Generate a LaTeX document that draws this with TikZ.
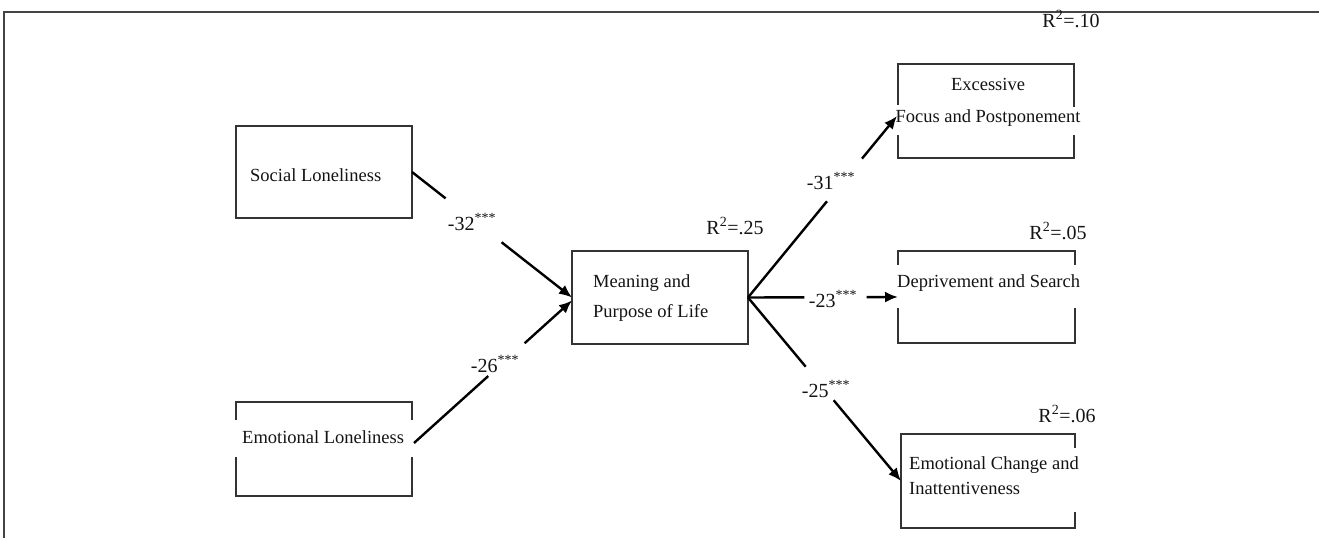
\documentclass[tikz,border=0pt]{standalone}
\usepackage{fontspec}
\setmainfont{Liberation Serif}
\usetikzlibrary{arrows.meta,calc}
\definecolor{boxc}{HTML}{333333}
\definecolor{framec}{HTML}{444444}
\definecolor{txtc}{HTML}{141414}
\begin{document}
\begin{tikzpicture}[x=1pt,y=-1pt,
  box/.style={draw=boxc, line width=2.1pt, inner sep=0pt, outer sep=0pt, minimum width=176pt, minimum height=93pt},
  txt/.style={font=\fontsize{18.5}{22}\selectfont, text=txtc, inner sep=0pt},
  coef/.style={font=\fontsize{20}{24}\selectfont, text=txtc, inner sep=0pt},
  rsq/.style={font=\fontsize{20}{24}\selectfont, text=txtc, inner sep=0pt},
  conn/.style={line width=2.4pt, draw=black},
  arr/.style={conn, -{Latex[length=13pt,width=11pt]}},
  gap/.style={fill=white}]
\useasboundingbox (0,0) rectangle (1319,538);
\fill[white] (0,0) rectangle (1319,538);
\draw[framec, line width=2pt] (4,538) -- (4,12) -- (1319,12);

% boxes
\node[box, minimum height=92pt] (soc) at (324,172) {};
\node[box, minimum height=94pt] (emo) at (324,449) {};
\node[box] (mean) at (660,297.5) {};
\node[box, minimum height=94pt] (exc) at (986,111) {};
\node[box, minimum width=177pt, minimum height=92pt] (dep) at (986.5,297) {};
\node[box, minimum width=174pt, minimum height=94pt] (emc) at (988,481) {};

% breaks in the box sides
\fill[gap] (230,420) rectangle (242,457);
\fill[gap] (406,420) rectangle (418,457);
\fill[gap] (892,105) rectangle (904,135);
\fill[gap] (1068,107) rectangle (1080,135);
\fill[gap] (892,265) rectangle (904,308);
\fill[gap] (1069,265) rectangle (1081,308);
\fill[gap] (1069,448) rectangle (1081,512);

% box texts
\node[txt, anchor=west] (tsoc) at (250,175) {Social Loneliness};
\node[txt, anchor=west] (temo) at (242,437) {Emotional Loneliness};
\node[txt, anchor=west, align=left, font=\fontsize{18.5}{30}\selectfont] (tmean) at (593,298) {Meaning and\\Purpose of Life};
\node[txt, align=center, font=\fontsize{18.5}{32}\selectfont] (texc) at (988,102) {Excessive\\Focus and Postponement};
\node[txt, anchor=west] (tdep) at (897,283) {Deprivement and Search};
\node[txt, anchor=west, align=left, font=\fontsize{18.5}{25}\selectfont] (temc) at (909,476) {Emotional Change and\\Inattentiveness};

% connector ends
\coordinate (emoS) at ($(emo.east)+(2,-6)$);
\coordinate (meanW2) at ($(mean.west)+(0,3)$);
\coordinate (excW) at ($(exc.west)+(-1,5)$);

% connectors
\draw[conn] (soc.east) -- ($(soc.east)!0.21!(mean.west)$);
\draw[arr] ($(soc.east)!0.56!(mean.west)$) -- (mean.west);
\draw[conn] (emoS) -- ($(emoS)!0.47!(meanW2)$);
\draw[arr] ($(emoS)!0.70!(meanW2)$) -- (meanW2);
\draw[conn] (mean.east) -- ($(mean.east)!0.53!(excW)$);
\draw[arr] ($(mean.east)!0.765!(excW)$) -- (excW);
\draw[conn] (mean.east) -- ($(mean.east)!0.376!(dep.west)$);
\draw[arr] ($(mean.east)!0.79!(dep.west)$) -- (dep.west);
\draw[conn] (mean.east) -- ($(mean.east)!0.377!(emc.west)$);
\draw[arr] ($(mean.east)!0.56!(emc.west)$) -- (emc.west);

% coefficients
\node[coef] (c1) at (472,222) {-32\textsuperscript{***}};
\node[coef] (c2) at (495,364) {-26\textsuperscript{***}};
\node[coef] (c3) at (831,181) {-31\textsuperscript{***}};
\node[coef] (c4) at (833,299) {-23\textsuperscript{***}};
\node[coef] (c5) at (826,389) {-25\textsuperscript{***}};

% R squared
\node[rsq] (r1) at (1071,19) {R\textsuperscript{2}=.10};
\node[rsq] (r2) at (735,226) {R\textsuperscript{2}=.25};
\node[rsq] (r3) at (1058,231) {R\textsuperscript{2}=.05};
\node[rsq] (r4) at (1067,414) {R\textsuperscript{2}=.06};
\end{tikzpicture}
\end{document}
